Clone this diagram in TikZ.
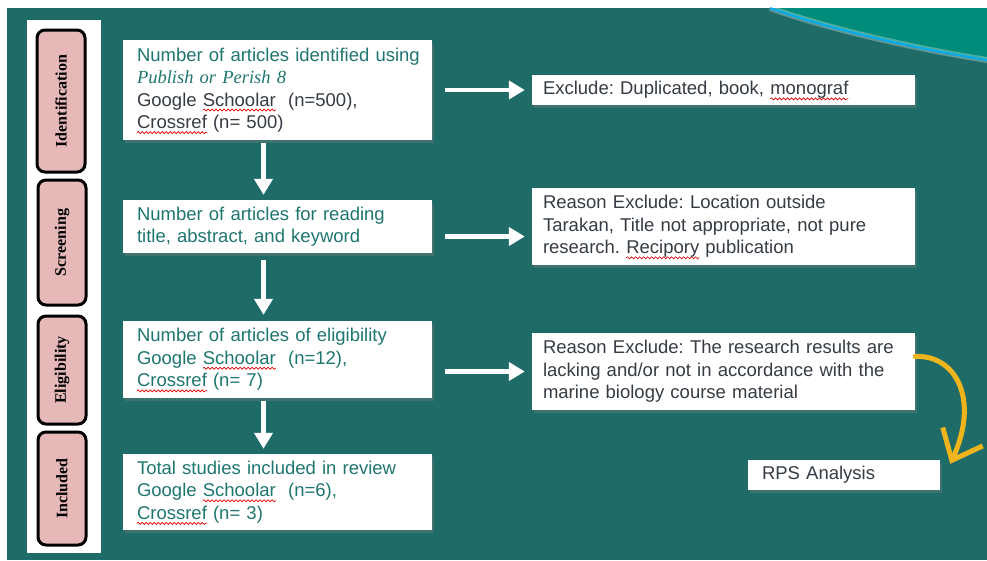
\documentclass[tikz,border=0pt]{standalone}
\usepackage{fontspec}
\setmainfont{Liberation Sans}
\newfontfamily\stagefont{Liberation Serif}
\usetikzlibrary{arrows.meta,shadows,decorations.pathmorphing}

\definecolor{bgteal}{HTML}{1E6B68}
\definecolor{lightteal}{HTML}{008C7A}
\definecolor{txtteal}{HTML}{1F7670}
\definecolor{txtgray}{HTML}{353C44}
\definecolor{stagepink}{HTML}{E6B8B8}
\definecolor{markyellow}{HTML}{F0B41C}

% red spell-check wave under a word
\newsavebox{\wordbox}
\newcommand{\spellwave}[1]{\leavevmode\sbox{\wordbox}{#1}\rlap{\tikz[overlay,baseline=0pt,x=1pt,y=1pt]
  \draw[red!85!black, line width=0.7pt, decorate, decoration={snake,amplitude=1pt,segment length=4pt}]
  (0,-4) -- (\wd\wordbox,-4);}\usebox{\wordbox}}

\tikzset{
  stagebox/.style={draw=black, line width=3pt, rounded corners=8pt, fill=stagepink, rotate=90,
    inner sep=0pt, font=\stagefont\bfseries\fontsize{16}{18}\selectfont},
  flowbox/.style={fill=white, align=left, inner ysep=0pt,
    font=\fontsize{18.5}{22.5}\selectfont\frenchspacing,
    drop shadow={opacity=0.35, shadow xshift=2pt, shadow yshift=-3pt}},
  leftbox/.style={flowbox, text=txtteal, text width=291pt, inner xsep=9pt,
    execute at begin node={\leftskip=5pt}},
  rightbox/.style={flowbox, text=txtgray, text width=361pt, inner xsep=11pt},
  flow/.style={white, line width=4.5pt, -{Triangle[length=16pt,width=18pt]}},
}

\begin{document}
\begin{tikzpicture}[x=1pt,y=-1pt]
\useasboundingbox (0,0) rectangle (987,560);
\fill[white] (0,0) rectangle (987,560);
\fill[bgteal] (7,8) rectangle (987,560);

% corner swoosh
\fill[lightteal] (770,8) .. controls (820,26) and (900,46) .. (987,60) -- (987,8) -- cycle;
\draw[white, opacity=.3, line width=6pt] (770,8) .. controls (820,26) and (900,46) .. (987,60);
\draw[cyan, line width=2pt] (770,8) .. controls (820,26) and (900,46) .. (987,60);

% stage column
\fill[white] (27,20) rectangle (101,553);
\node[stagebox, minimum width=142pt, minimum height=48pt] (ident tag) at (61,101) {Identification};
\node[stagebox, minimum width=125pt, minimum height=48pt] (screen tag) at (62,242.5) {Screening};
\node[stagebox, minimum width=108pt, minimum height=48pt] (elig tag) at (62,370) {Eligibility};
\node[stagebox, minimum width=113pt, minimum height=48pt] (incl tag) at (62,488.5) {Included};

% left column
\node[leftbox, minimum height=100pt] (ident box) at (277.5,90)
  {Number of articles identified using\\
   {\stagefont\itshape Publish or Perish 8}\\
   {\color{txtgray}Google \spellwave{Schoolar}~ (n=500),\\
   \spellwave{Crossref} (n= 500)}};
\node[leftbox, minimum height=53pt] (screen box) at (277.5,226.5)
  {Number of articles for reading\\ title, abstract, and keyword};
\node[leftbox, minimum height=77pt] (elig box) at (277.5,359.5)
  {Number of articles of eligibility\\ Google \spellwave{Schoolar}~ (n=12),\\ \spellwave{Crossref} (n= 7)};
\node[leftbox, minimum height=76pt] (incl box) at (277.5,492)
  {Total studies included in review\\ Google \spellwave{Schoolar}~ (n=6),\\ \spellwave{Crossref} (n= 3)};

% right column
\node[rightbox, minimum height=30pt] (ident out) at (723.5,90)
  {Exclude: Duplicated, book, \spellwave{monograf}};
\node[rightbox, minimum height=77pt] (screen out) at (723.5,226.5)
  {Reason Exclude: Location outside\\ Tarakan, Title not appropriate, not pure\\ research. \spellwave{Recipory} publication};
\node[rightbox, minimum height=77pt] (elig out) at (723.5,371.5)
  {Reason Exclude: The research results are\\ lacking and/or not in accordance with the\\ marine biology course material};
\node[flowbox, text=txtgray, text width=164pt, inner xsep=14pt, minimum height=30pt] (rps) at (844,475)
  {RPS Analysis};

% arrows
\draw[flow, shorten <=3pt, shorten >=5pt] ([xshift=-14pt]ident box.south) -- ([xshift=-14pt]screen box.north);
\draw[flow, shorten <=7pt, shorten >=6pt] ([xshift=-14pt]screen box.south) -- ([xshift=-14pt]elig box.north);
\draw[flow, shorten <=3pt, shorten >=5pt] ([xshift=-14pt]elig box.south) -- ([xshift=-14pt]incl box.north);

\draw[flow, shorten <=13pt, shorten >=7pt] (ident box.east) -- (ident out.west);
\draw[flow, shorten <=13pt, shorten >=7pt] ([yshift=-10pt]screen box.east) -- ([yshift=-10pt]screen out.west);
\draw[flow, shorten <=13pt, shorten >=7pt] (elig box.east |- elig out.west) -- (elig out.west);

\draw[markyellow, line width=5pt, line cap=round, -{Straight Barb[length=26pt,width=44pt,line width=5pt]}]
  ([yshift=15pt]elig out.east) .. controls +(40,-2) and +(30,-65) .. ([xshift=10pt,yshift=-4pt]rps.north east);
\end{tikzpicture}
\end{document}
